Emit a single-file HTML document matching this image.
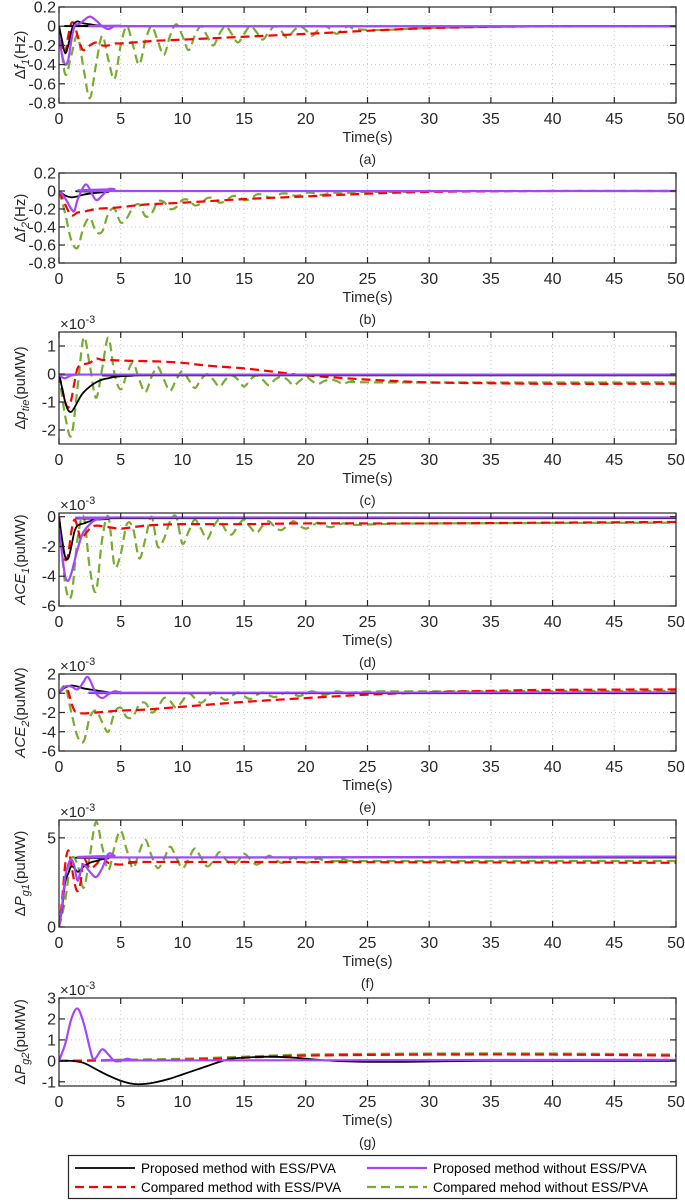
<!DOCTYPE html>
<html><head><meta charset="utf-8">
<style>
html,body{margin:0;padding:0;background:#fff;}
svg{display:block;font-family:"Liberation Sans",Arial,sans-serif;}
</style></head>
<body>
<svg id="fig" width="685" height="1202" viewBox="0 0 685 1202" xmlns="http://www.w3.org/2000/svg"></svg>
<script>
// ---------- DATA (time s, value) ----------
const xTicks = [0,5,10,15,20,25,30,35,40,45,50];
const seriesNames = ["Proposed method with ESS/PVA","Proposed method without ESS/PVA","Compared method with ESS/PVA","Compared mehod without ESS/PVA"];

// (a) delta f1
const aBlack = [[0,0],[0.25,-0.15],[0.5,-0.28],[0.75,-0.2],[1,-0.05],[1.25,0.03],[1.5,0.05],[1.75,0.04],[2,0.03],[2.5,0.02],[3,0.01],[3.5,0.005],[4,0],[50,0]];
const aPurple = [[0,-0.1],[0.25,-0.3],[0.5,-0.4],[0.75,-0.35],[1,-0.15],[1.25,0],[1.5,0.02],[1.75,0.03],[2,0.06],[2.5,0.1],[3,0.06],[3.5,0],[4,-0.03],[4.5,0],[5,0.005],[6,0],[50,0]];
const aRed = [[0,0],[0.25,-0.2],[0.5,-0.28],[0.75,-0.1],[1,0.03],[1.25,0.02],[1.5,-0.1],[1.75,-0.2],[2,-0.25],[2.5,-0.2],[3,-0.17],[3.5,-0.2],[4,-0.2],[4.5,-0.18],[5,-0.18],[6,-0.17],[7,-0.16],[8,-0.15],[10,-0.14],[15,-0.11],[20,-0.08],[30,-0.02],[40,0],[50,0]];
const aGreen = [[0,0],[0.5,-0.5],[1,-0.3],[1.5,-0.1],[2,-0.45],[2.5,-0.75],[3,-0.4],[3.5,-0.1],[4,-0.35],[4.5,-0.55],[5,-0.2],[5.5,0],[6,-0.2],[6.5,-0.4],[7,-0.15],[7.5,0],[8,-0.15],[8.5,-0.3],[9,-0.1],[9.5,0.02],[10,-0.1],[10.5,-0.25],[11,-0.1],[11.5,0],[12,-0.1],[12.5,-0.2],[13,-0.08],[13.5,0],[14,-0.08],[14.5,-0.17],[15,-0.08],[15.5,0],[16,-0.06],[16.5,-0.14],[17,-0.06],[17.5,0],[18,-0.05],[18.5,-0.12],[19,-0.05],[19.5,0],[20,-0.04],[20.5,-0.1],[21,-0.04],[21.5,0],[22,-0.03],[22.5,-0.08],[23,-0.03],[23.5,0],[24,-0.03],[26,-0.04],[28,-0.03],[30,-0.02],[34,-0.01],[40,0],[50,0]];

// (b) delta f2
const bBlack = [[0,0],[0.5,-0.05],[1,-0.07],[1.5,-0.06],[2,-0.04],[3,-0.02],[4,-0.01],[5,0],[50,0]];
const bPurple = [[0,0],[0.5,-0.08],[1,-0.2],[1.25,-0.22],[1.5,-0.1],[2,0.05],[2.25,0.07],[2.5,0.02],[3,-0.1],[3.5,-0.05],[4,0.02],[4.5,0.02],[5,0],[50,0]];
const bRed = [[0,0],[0.5,-0.15],[1,-0.27],[1.5,-0.24],[2,-0.23],[3,-0.2],[4,-0.19],[5,-0.18],[7,-0.15],[10,-0.13],[15,-0.09],[20,-0.06],[25,-0.03],[30,-0.01],[40,0],[50,0]];
const bGreen = [[0,0],[0.5,-0.25],[1,-0.55],[1.5,-0.63],[2,-0.4],[2.5,-0.3],[3,-0.45],[3.5,-0.45],[4,-0.25],[4.5,-0.2],[5,-0.35],[5.5,-0.3],[6,-0.18],[6.5,-0.15],[7,-0.28],[7.5,-0.25],[8,-0.12],[8.5,-0.12],[9,-0.2],[9.5,-0.18],[10,-0.1],[10.5,-0.1],[11,-0.16],[11.5,-0.14],[12,-0.08],[12.5,-0.08],[13,-0.13],[13.5,-0.11],[14,-0.06],[14.5,-0.06],[15,-0.1],[15.5,-0.09],[16,-0.04],[16.5,-0.04],[17,-0.07],[17.5,-0.07],[18,-0.03],[18.5,-0.03],[19,-0.05],[19.5,-0.05],[20,-0.02],[20.5,-0.02],[21,-0.04],[21.5,-0.04],[22,-0.02],[22.5,-0.02],[23,-0.03],[23.5,-0.02],[24,-0.01],[28,-0.01],[30,0],[50,0]];

// (c) delta p_tie (x1e-3)
const cBlack = [[0,0],[0.25,-0.5],[0.5,-1.0],[0.75,-1.3],[1,-1.35],[1.25,-1.2],[1.5,-1.0],[1.75,-0.8],[2,-0.65],[2.5,-0.45],[3,-0.3],[3.5,-0.2],[4,-0.15],[4.5,-0.1],[5,-0.08],[6,-0.06],[7,-0.05],[50,-0.05]];
const cPurple = [[0,0],[0.25,-0.12],[0.5,-0.15],[0.75,-0.1],[1,-0.05],[1.5,-0.03],[2,-0.02],[50,-0.02]];
const cRed = [[0,0],[0.25,-0.5],[0.5,-1.0],[0.75,-1.2],[1,-0.9],[1.25,-0.3],[1.5,0.2],[1.75,0.3],[2,0.35],[2.5,0.4],[3,0.55],[3.5,0.5],[4,0.5],[5,0.48],[6,0.47],[7,0.46],[8,0.45],[10,0.4],[12,0.3],[15,0.2],[18,0.05],[20,-0.05],[25,-0.2],[30,-0.3],[35,-0.33],[40,-0.35],[50,-0.35]];
const cGreen = [[0,0],[0.5,-1.5],[1,-2.2],[1.5,-0.5],[2,1.3],[2.5,0.3],[3,-0.85],[3.5,0.2],[4,1.3],[4.5,0],[5,-0.55],[5.5,0],[6,0.4],[6.5,-0.2],[7,-0.65],[7.5,-0.1],[8,0.25],[8.5,-0.2],[9,-0.6],[9.5,-0.2],[10,0.1],[10.5,-0.2],[11,-0.5],[11.5,-0.2],[12,0],[12.5,-0.2],[13,-0.45],[13.5,-0.2],[14,-0.05],[14.5,-0.2],[15,-0.45],[15.5,-0.2],[16,-0.05],[16.5,-0.2],[17,-0.4],[17.5,-0.2],[18,-0.1],[18.5,-0.2],[19,-0.4],[19.5,-0.25],[20,-0.1],[20.5,-0.25],[21,-0.35],[21.5,-0.25],[22,-0.2],[22.5,-0.25],[23,-0.35],[23.5,-0.28],[24,-0.25],[26,-0.3],[50,-0.3]];

// (d) ACE1 (x1e-3)
const dBlack = [[0,0],[0.25,-1.5],[0.5,-2.7],[0.75,-2.8],[1,-2],[1.25,-1],[1.5,-0.6],[2,-0.45],[2.5,-0.3],[3,-0.2],[4,-0.15],[5,-0.1],[50,-0.1]];
const dPurple = [[0,-0.8],[0.25,-2.5],[0.5,-4],[0.75,-4.3],[1,-3.8],[1.25,-3],[1.5,-2.2],[1.75,-1.5],[2,-1],[2.5,-0.5],[3,-0.2],[4,-0.1],[5,-0.05],[50,-0.05]];
const dRed = [[0,0],[0.25,-2],[0.5,-2.9],[0.75,-2.5],[1,-1],[1.25,-0.2],[1.5,-0.7],[1.75,-1.5],[2,-1.3],[2.5,-0.8],[3,-0.6],[4,-0.7],[5,-0.8],[6,-0.7],[7,-0.6],[8,-0.55],[10,-0.5],[15,-0.5],[20,-0.45],[30,-0.45],[40,-0.4],[50,-0.35]];
const dGreen = [[0,0],[0.5,-4.5],[1,-5.3],[1.5,-1.5],[2,0],[2.5,-3.5],[3,-5],[3.5,-1.5],[4,0],[4.5,-3.3],[5,-2.5],[5.5,-0.5],[6,-0.8],[6.5,-2.8],[7,-1.5],[7.5,0],[8,-2],[8.5,-1.5],[9,-0.3],[9.5,0],[10,-1.8],[10.5,-1],[11,-0.2],[11.5,-0.8],[12,-1.5],[12.5,-0.7],[13,-0.2],[13.5,-0.9],[14,-1.2],[14.5,-0.6],[15,-0.2],[15.5,-0.7],[16,-1.1],[16.5,-0.6],[17,-0.3],[17.5,-0.7],[18,-0.9],[18.5,-0.6],[19,-0.3],[19.5,-0.6],[20,-0.8],[20.5,-0.6],[21,-0.4],[21.5,-0.6],[22,-0.7],[22.5,-0.6],[23,-0.45],[23.5,-0.5],[24,-0.55],[26,-0.5],[30,-0.45],[50,-0.4]];

// (e) ACE2 (x1e-3)
const eBlack = [[0,0],[0.5,0.6],[1,0.8],[1.5,0.7],[2,0.5],[3,0.3],[4,0.1],[5,0.05],[6,0],[50,0]];
const ePurple = [[0,0],[0.5,0.7],[1,0.7],[1.5,0.4],[2,1.2],[2.25,1.7],[2.5,1.4],[3,0],[3.5,-0.5],[4,-0.1],[4.5,0.2],[5,0.1],[6,0.05],[50,0.1]];
const eRed = [[0,0],[0.25,0.4],[0.5,0.7],[0.75,0.2],[1,-1],[1.25,-1.8],[1.5,-2],[2,-2.1],[3,-2],[4,-1.9],[5,-1.8],[7,-1.7],[10,-1.4],[15,-0.9],[20,-0.5],[25,-0.15],[30,0.1],[35,0.25],[40,0.35],[50,0.4]];
const eGreen = [[0,0],[0.5,0.7],[1,-2],[1.5,-4.5],[2,-5],[2.5,-2.5],[3,-1.8],[3.5,-3],[4,-4],[4.5,-2],[5,-1.5],[5.5,-2.5],[6,-2.4],[6.5,-1.2],[7,-1],[7.5,-2],[8,-1.5],[8.5,-0.5],[9,-0.8],[9.5,-1.5],[10,-0.8],[10.5,0],[11,-0.5],[11.5,-1],[12,-0.5],[12.5,0.1],[13,-0.3],[13.5,-0.7],[14,-0.3],[14.5,0.1],[15,-0.3],[15.5,-0.6],[16,-0.2],[16.5,0.1],[17,-0.2],[17.5,-0.4],[18,-0.1],[18.5,0.1],[19,-0.1],[19.5,-0.3],[20,0],[20.5,0.2],[21,0],[21.5,-0.2],[22,0],[22.5,0.2],[23,0.1],[23.5,0],[24,0.1],[26,0.2],[30,0.2],[50,0.25]];

// (f) delta Pg1 (x1e-3)
const fBlack = [[0,0],[0.25,1],[0.5,2.5],[0.75,3],[1,3.4],[1.25,3.3],[1.5,3.1],[1.75,3.2],[2,3.4],[2.5,3.6],[3,3.7],[3.5,3.8],[4,3.85],[5,3.9],[50,3.9]];
const fPurple = [[0,0],[0.25,1.2],[0.5,2.8],[0.75,3.5],[1,3.8],[1.25,3.4],[1.5,2.6],[1.75,3.1],[2,3.5],[2.5,3.1],[3,2.8],[3.5,3.3],[4,4.1],[4.5,4],[5,3.9],[50,3.95]];
const fRed = [[0,0],[0.25,1.5],[0.5,3.5],[0.75,4.3],[1,3.5],[1.25,2.5],[1.5,2],[1.75,2.5],[2,3.8],[2.5,3.3],[3,3.5],[3.5,3.9],[4,3.6],[5,3.5],[6,3.6],[10,3.65],[50,3.6]];
const fGreen = [[0,0],[0.5,1.5],[1,3.8],[1.5,3.5],[2,2.2],[2.5,4],[3,5.9],[3.5,4.5],[4,3.2],[4.5,4.5],[5,5.4],[5.5,4.3],[6,3.3],[6.5,4.2],[7,4.9],[7.5,4],[8,3.3],[8.5,3.8],[9,4.5],[9.5,3.9],[10,3.3],[10.5,3.8],[11,4.4],[11.5,3.9],[12,3.4],[12.5,3.7],[13,4.2],[13.5,3.8],[14,3.5],[14.5,3.7],[15,4.1],[15.5,3.8],[16,3.5],[16.5,3.7],[17,4],[17.5,3.8],[18,3.6],[18.5,3.7],[19,3.9],[19.5,3.7],[20,3.6],[20.5,3.7],[21,3.85],[21.5,3.7],[22,3.65],[22.5,3.7],[23,3.8],[23.5,3.7],[24,3.7],[50,3.7]];

// (g) delta Pg2 (x1e-3)
const gBlack = [[0,0],[1,0],[2,-0.1],[3,-0.4],[4,-0.7],[5,-0.95],[6,-1.1],[7,-1.1],[8,-1.0],[9,-0.85],[10,-0.65],[11,-0.45],[12,-0.25],[13,-0.05],[14,0.1],[15,0.15],[17,0.2],[19,0.15],[21,0.05],[23,-0.02],[26,-0.05],[30,-0.03],[35,0],[50,0]];
const gPurple = [[0,0],[0.5,0.8],[1,2.0],[1.5,2.5],[2,1.8],[2.5,0.6],[2.75,0.1],[3,0.15],[3.5,0.55],[4,0.3],[4.5,0],[5,0],[5.5,0.1],[6,0.05],[7,0.02],[50,0.05]];
const gRed = [[0,0],[5,0.02],[10,0.05],[15,0.15],[20,0.25],[30,0.3],[40,0.3],[50,0.25]];
const gGreen = [[0,0],[5,0.05],[10,0.1],[15,0.2],[20,0.3],[30,0.35],[40,0.35],[50,0.3]];

// ---------- LAYOUT ----------
const X0 = 59, X1 = 676;
const panels = [
 {id:'a', top:7, bot:103, ymin:-0.8, ymax:0.2, ticks:[-0.8,-0.6,-0.4,-0.2,0,0.2], fmt:v=>v===0?'0':v.toFixed(1), exp:false, lab:['Δ','f','1','(Hz)'], data:[aGreen,aRed,aBlack,aPurple]},
 {id:'b', top:173, bot:263, ymin:-0.8, ymax:0.2, ticks:[-0.8,-0.6,-0.4,-0.2,0,0.2], fmt:v=>v===0?'0':v.toFixed(1), exp:false, lab:['Δ','f','2','(Hz)'], data:[bGreen,bRed,bBlack,bPurple]},
 {id:'c', top:332, bot:444, ymin:-2.5, ymax:1.5, ticks:[-2,-1,0,1], fmt:v=>String(v), exp:true, lab:['Δ','p','tie','(puMW)'], data:[cGreen,cRed,cBlack,cPurple]},
 {id:'d', top:513, bot:606, ymin:-6, ymax:0.25, ticks:[-6,-4,-2,0], fmt:v=>String(v), exp:true, lab:['','ACE','1','(puMW)'], data:[dGreen,dRed,dBlack,dPurple]},
 {id:'e', top:674, bot:751, ymin:-6, ymax:2, ticks:[-6,-4,-2,0,2], fmt:v=>String(v), exp:true, lab:['','ACE','2','(puMW)'], data:[eGreen,eRed,eBlack,ePurple]},
 {id:'f', top:820, bot:927, ymin:0, ymax:6, ticks:[0,5], fmt:v=>String(v), exp:true, lab:['Δ','P','g1','(puMW)'], data:[fGreen,fRed,fBlack,fPurple]},
 {id:'g', top:998, bot:1086, ymin:-1.2, ymax:3, ticks:[-1,0,1,2,3], fmt:v=>String(v), exp:true, lab:['Δ','P','g2','(puMW)'], data:[gGreen,gRed,gBlack,gPurple]}
];
const styles = [
 {c:'#77AC30', w:2.2, d:'9,5', n:'compared-without-ess'},
 {c:'#FF0000', w:2.2, d:'9,5', n:'compared-with-ess'},
 {c:'#000000', w:1.8, d:'', n:'proposed-with-ess'},
 {c:'#A347FF', w:2.2, d:'', n:'proposed-without-ess'}
];
const NS = 'http://www.w3.org/2000/svg';
const svg = document.getElementById('fig');
function mk(tag, attrs, parent){ const e=document.createElementNS(NS,tag); for(const k in attrs) e.setAttribute(k,attrs[k]); (parent||svg).appendChild(e); return e; }
const xs = t => X0 + (t/50)*(X1-X0);

function smoothPath(pts){
  let d = 'M'+pts[0][0].toFixed(2)+','+pts[0][1].toFixed(2);
  for(let i=0;i<pts.length-1;i++){
    const p0=pts[Math.max(0,i-1)], p1=pts[i], p2=pts[i+1], p3=pts[Math.min(pts.length-1,i+2)];
    const c1x=p1[0]+(p2[0]-p0[0])/6, c1y=p1[1]+(p2[1]-p0[1])/6;
    const c2x=p2[0]-(p3[0]-p1[0])/6, c2y=p2[1]-(p3[1]-p1[1])/6;
    d+=' C'+c1x.toFixed(2)+','+c1y.toFixed(2)+' '+c2x.toFixed(2)+','+c2y.toFixed(2)+' '+p2[0].toFixed(2)+','+p2[1].toFixed(2);
  }
  return d;
}

panels.forEach(p=>{
  const g = mk('g',{});
  
  
  const ys = v => p.bot - (v-p.ymin)/(p.ymax-p.ymin)*(p.bot-p.top);
  xTicks.forEach(t=>{ if(t>0&&t<50){ const l=mk('line',{x1:xs(t),x2:xs(t),y1:p.top,y2:p.bot,stroke:'#c8c8c8','stroke-width':1,'stroke-dasharray':'1,3'},g);
      }});
  p.ticks.forEach(v=>{ const y=ys(v); if(y>p.top+1&&y<p.bot-1){ const l=mk('line',{x1:X0,x2:X1,y1:y,y2:y,stroke:'#c8c8c8','stroke-width':1,'stroke-dasharray':'1,3'},g);
      }});
  const clip = mk('clipPath',{id:'clip'+p.id},g);
  mk('rect',{x:X0,y:p.top,width:X1-X0,height:p.bot-p.top},clip);
  p.data.forEach((ser,i)=>{
    const s=styles[i];
    const pts = ser.map(q=>[xs(q[0]), ys(q[1])]);
    const path = mk('path',{d:smoothPath(pts),fill:'none',stroke:s.c,'stroke-width':s.w,'stroke-dasharray':s.d,'clip-path':'url(#clip'+p.id+')','stroke-linejoin':'round'},g);
    
    
  });
  const box = mk('rect',{x:X0,y:p.top,width:X1-X0,height:p.bot-p.top,fill:'none',stroke:'#262626','stroke-width':1.2},g);
  
  
  xTicks.forEach(t=>{
    const x=xs(t);
    mk('line',{x1:x,x2:x,y1:p.bot,y2:p.bot-6,stroke:'#262626','stroke-width':1.2},g);
    mk('line',{x1:x,x2:x,y1:p.top,y2:p.top+6,stroke:'#262626','stroke-width':1.2},g);
    const tx = mk('text',{x:x,y:p.bot+21,'text-anchor':'middle','font-size':'16px',fill:'#262626'},g);
    tx.textContent=t;
    
    
  });
  p.ticks.forEach(v=>{
    const y=ys(v);
    mk('line',{x1:X0,x2:X0+6,y1:y,y2:y,stroke:'#262626','stroke-width':1.2},g);
    mk('line',{x1:X1,x2:X1-6,y1:y,y2:y,stroke:'#262626','stroke-width':1.2},g);
    const tx = mk('text',{x:X0-3,y:y+5.5,'text-anchor':'end','font-size':'16px',fill:'#262626'},g);
    tx.textContent=p.fmt(v);
    
    
  });
  if(p.exp){
    const ex = mk('text',{x:60,y:p.top-3,'font-size':'15px',fill:'#262626'},g);
    ex.innerHTML='×10<tspan dy="-6" font-size="11px">-3</tspan>';
    
    
  }
  const cy=(p.top+p.bot)/2;
  const yl = mk('text',{x:0,y:0,'text-anchor':'middle','font-size':'15px',fill:'#262626',transform:'translate(25,'+cy+') rotate(-90)'},g);
  yl.innerHTML = p.lab[0]+'<tspan font-style="italic">'+p.lab[1]+'</tspan><tspan dy="4" font-size="11px" font-style="italic">'+p.lab[2]+'</tspan><tspan dy="-4">'+p.lab[3]+'</tspan>';
  
  
  const xl = mk('text',{x:(X0+X1)/2,y:p.bot+39,'text-anchor':'middle','font-size':'15px',fill:'#262626'},g);
  xl.textContent='Time(s)';
  
  
  const pl = mk('text',{x:(X0+X1)/2,y:p.bot+61,'text-anchor':'middle','font-size':'14px',fill:'#262626'},g);
  pl.textContent='('+p.id+')';
  
  
});

const lg = mk('g',{});


mk('rect',{x:68.5,y:1155.5,width:608,height:43,fill:'#fff',stroke:'#262626','stroke-width':1.2},lg);
const legendItems = [
 {s:styles[2], x:75, y:1168, t:seriesNames[0]},
 {s:styles[3], x:367, y:1168, t:seriesNames[1]},
 {s:styles[1], x:75, y:1187, t:seriesNames[2]},
 {s:styles[0], x:367, y:1187, t:seriesNames[3]}
];
legendItems.forEach(it=>{
  const e = mk('g',{},lg);
  
  
  mk('line',{x1:it.x,x2:it.x+60,y1:it.y,y2:it.y,stroke:it.s.c,'stroke-width':it.s.w,'stroke-dasharray':it.s.d},e);
  const tx = mk('text',{x:it.x+66,y:it.y+5,'font-size':'13.5px',fill:'#000'},e);
  tx.textContent=it.t;
});
</script>
</body></html>
